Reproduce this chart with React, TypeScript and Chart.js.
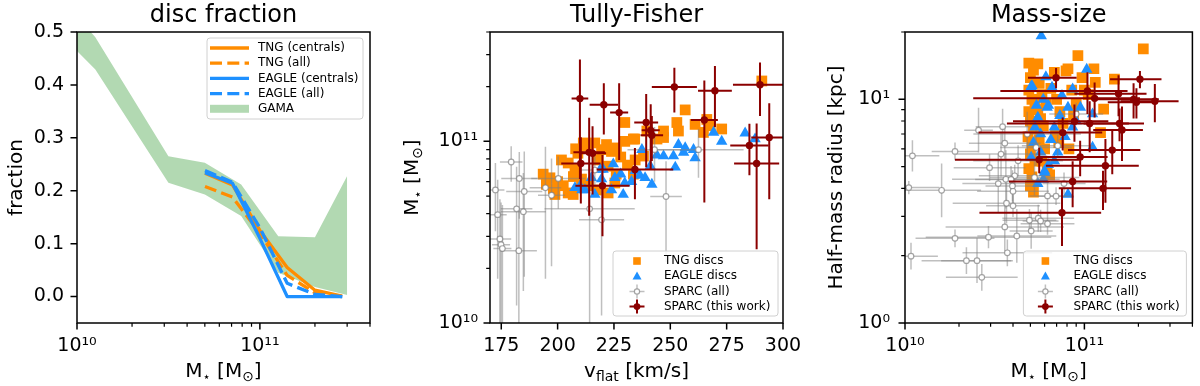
import React, { useEffect, useRef } from "react";
import { Chart, registerables } from "chart.js";
Chart.register(...registerables);

// ---------------- Panel 1: disc fraction ----------------
const discBinMass = [5.01e10, 7.08e10, 1.0e11, 1.41e11, 2.0e11, 2.82e11];
const tngCentralsFrac = [0.233, 0.211, 0.125, 0.055, 0.012, 0.001];
const tngAllFrac = [0.208, 0.188, 0.12, 0.04, 0.007, 0.0];
const eagleCentralsFrac = [0.234, 0.214, 0.11, 0.0, 0.0, 0.0];
const eagleAllFrac = [0.238, 0.216, 0.13, 0.025, 0.004, 0.0];
const gamaMass = [1.0e10, 1.26e10, 3.16e10, 5.0e10, 7.9e10, 1.26e11, 2.0e11, 3.0e11];
const gamaLower = [0.464, 0.429, 0.215, 0.193, 0.152, 0.045, 0.018, 0.003];
const gamaUpper = [0.53, 0.49, 0.265, 0.253, 0.212, 0.114, 0.112, 0.228];

// ---------------- Panel 2: Tully-Fisher (masses in 1e10 Msun) ----------------
const tfTngV = [193.6, 196.6, 198.1, 198.8, 202.5, 204.7, 206.9, 201.7, 204.7, 207.7, 211.4, 213.6, 216.5, 219.5, 221.7, 223.9, 226.1, 229.8, 234.2, 229.8, 218.0, 222.4, 210.6, 213.6, 218.0, 222.4, 225.4, 256.6, 252.9, 253.6, 261.0, 266.2, 267.7, 272.8, 264.7, 290.6, 247.0, 244.1, 239.6, 233.6, 247.0, 238.1, 234.4, 233.6, 213.0, 209.0, 228.0, 200.0, 195.0, 226.0, 231.0, 207.0, 208.0];
const tfTngM = [6.6, 6.3, 5.5, 5.1, 5.7, 5.2, 5.1, 7.9, 7.6, 7.0, 9.8, 9.4, 9.8, 9.0, 9.6, 8.8, 9.2, 10.0, 10.3, 12.7, 7.9, 7.3, 6.2, 5.7, 5.4, 5.2, 5.9, 14.9, 12.7, 11.4, 12.4, 13.2, 12.2, 11.7, 11.2, 21.5, 10.5, 10.3, 11.4, 10.3, 11.4, 8.3, 7.9, 6.6, 9.6, 8.6, 8.2, 6.0, 5.8, 6.6, 7.4, 6.4, 9.1];
const tfEagleV = [207.7, 209.9, 212.1, 216.5, 215.0, 219.5, 220.2, 224.7, 225.4, 223.9, 229.1, 229.8, 232.8, 237.4, 241.1, 241.8, 238.8, 247.0, 251.4, 253.6, 256.6, 260.3, 261.0, 255.9, 252.2, 269.2, 272.8, 283.2, 287.6, 234.4, 236.5, 218.9, 228.0, 244.0, 210.8];
const tfEagleM = [5.55, 5.66, 5.4, 5.1, 6.3, 6.2, 7.0, 7.5, 6.3, 5.4, 5.1, 5.9, 6.0, 9.0, 7.3, 5.8, 6.3, 8.3, 8.3, 9.6, 9.2, 9.0, 8.1, 8.7, 7.2, 11.2, 10.0, 11.1, 10.3, 6.9, 6.5, 7.0, 6.6, 8.4, 5.4];
const tfSparcAllV = [179.4, 172.4, 173.4, 174.4, 174.9, 175.5, 183.0, 185.2, 181.8, 184.8, 182.8, 194.6, 197.3, 200.3, 216.5, 214.2, 219.5, 248.1, 243.0, 262.5];
const tfSparcAllM = [7.7, 5.4, 3.95, 2.9, 2.7, 2.57, 6.25, 5.3, 4.25, 4.1, 2.5, 5.55, 5.05, 6.25, 6.95, 4.25, 3.7, 4.97, 9.0, 9.0];
const tfSparcAllVErr = [5, 4, 4, 5, 4, 4, 8, 8, 7, 10, 8, 7, 6, 12, 6, 20, 10, 7, 12, 20];
const tfSparcAllMErr = [1.7, 2.2, 2.2, 1.9, 1.9, 1.9, 2.5, 3.5, 3.0, 2.6, 1.7, 3.8, 3.0, 2.0, 1.3, 3.3, 2.6, 2.8, 3.0, 2.7];
const tfSparcV = [209.9, 220.5, 227.3, 214.0, 215.5, 210.3, 219.9, 234.3, 239.3, 241.3, 241.8, 251.8, 265.1, 269.8, 289.8, 285.1, 293.9, 288.3];
const tfSparcM = [17.2, 15.9, 14.4, 8.7, 8.6, 7.55, 5.7, 7.0, 12.7, 11.5, 10.8, 19.9, 13.1, 19.0, 20.5, 9.5, 10.5, 7.55];
const tfSparcVErr = [3.7, 6.3, 4, 7, 6, 8.7, 12, 17, 5.3, 4, 5, 10, 6, 7.5, 12, 8.5, 8, 10];
const tfSparcMErr = [11, 5, 6.5, 4.8, 3.5, 3, 2.7, 2.2, 5.5, 4.5, 3, 5.5, 8.5, 7, 6.7, 3, 5.7, 5];

// ---------------- Panel 3: Mass-size (masses in 1e10 Msun, radii in kpc) ----------------
const msTngM = [4.9, 5.0, 5.2, 4.9, 5.1, 5.3, 4.9, 5.0, 5.2, 4.85, 5.1, 5.0, 5.3, 4.9, 5.1, 5.0, 5.2, 5.5, 5.6, 5.8, 5.5, 5.7, 5.9, 5.6, 6.0, 5.8, 6.2, 6.4, 6.1, 6.5, 6.8, 7.0, 7.3, 7.6, 6.9, 7.9, 8.1, 8.5, 9.2, 9.0, 8.2, 8.7, 10.0, 11.3, 11.5, 10.5, 12.8, 12.3, 14.7, 21.3, 9.7, 7.2];
const msTngR = [14.5, 12.5, 13.5, 11.0, 10.0, 9.5, 8.8, 8.0, 7.4, 6.8, 6.3, 5.7, 5.3, 4.9, 4.5, 4.1, 3.85, 14.4, 11.8, 10.5, 9.0, 8.2, 7.6, 6.6, 6.0, 5.3, 5.0, 4.6, 9.6, 11.2, 13.2, 10.0, 8.8, 7.8, 7.0, 13.4, 13.7, 11.0, 15.7, 9.5, 6.0, 8.5, 11.0, 13.7, 11.9, 10.5, 9.05, 7.1, 12.3, 16.8, 12.5, 6.4];
const msEagleM = [5.75, 10.3, 6.1, 5.05, 5.4, 5.9, 6.2, 5.3, 5.7, 5.05, 5.7, 6.0, 5.5, 8.6, 6.3, 7.3, 8.1, 9.5, 11.1, 6.8, 8.6, 6.5, 7.1, 11.1, 6.8, 6.0, 8.1, 5.9, 5.1, 6.6, 7.5, 5.2, 6.3, 5.5, 7.8, 9.0];
const msEagleR = [19.2, 13.6, 12.6, 11.4, 9.4, 10.0, 9.2, 7.5, 7.0, 5.5, 5.8, 4.79, 8.3, 11.1, 9.4, 8.45, 9.2, 9.2, 8.6, 7.5, 7.5, 6.6, 5.8, 6.1, 5.3, 4.7, 3.76, 4.38, 11.5, 11.3, 10.4, 6.4, 5.1, 4.2, 6.8, 8.0];
const msSparcAllM = [1.10, 1.05, 1.08, 1.60, 1.90, 1.90, 2.20, 2.52, 2.68, 2.57, 2.96, 2.92, 3.31, 3.50, 3.60, 3.43, 3.65, 3.97, 4.09, 3.68, 4.00, 3.60, 3.72, 4.20, 4.94, 5.05, 5.53, 6.23, 6.23, 5.27, 5.38, 4.80, 4.27, 6.95, 7.70, 9.00, 7.10, 5.70, 3.90, 4.00];
const msSparcAllR = [5.59, 4.03, 1.99, 3.92, 5.85, 2.39, 1.90, 1.90, 1.60, 7.28, 4.95, 2.42, 4.20, 7.55, 6.37, 5.69, 4.39, 4.10, 4.55, 3.43, 3.34, 2.69, 2.06, 2.45, 2.88, 2.58, 2.94, 2.78, 3.70, 4.47, 6.09, 6.99, 5.31, 3.69, 4.20, 8.60, 6.20, 2.86, 4.38, 3.88];
const msSparcAllMErrDex = [0.15, 0.17, 0.15, 0.22, 0.13, 0.22, 0.25, 0.2, 0.2, 0.08, 0.2, 0.35, 0.2, 0.15, 0.2, 0.25, 0.3, 0.15, 0.2, 0.3, 0.15, 0.33, 0.25, 0.22, 0.15, 0.12, 0.2, 0.15, 0.1, 0.25, 0.2, 0.3, 0.25, 0.1, 0.12, 0.15, 0.2, 0.1, 0.2, 0.2];
const msSparcAllRErrDex = [0.07, 0.03, 0.06, 0.12, 0.04, 0.04, 0.06, 0.1, 0.06, 0.1, 0.06, 0.05, 0.13, 0.08, 0.07, 0.1, 0.13, 0.07, 0.05, 0.09, 0.05, 0.11, 0.06, 0.12, 0.05, 0.08, 0.06, 0.05, 0.08, 0.08, 0.08, 0.1, 0.07, 0.04, 0.05, 0.05, 0.05, 0.05, 0.06, 0.06];
const msSparcM = [6.95, 10.4, 11.4, 15.5, 18.8, 19.5, 24.7, 20.4, 8.8, 10.7, 15.7, 16.2, 7.57, 14.3, 9.47, 5.6, 13.1, 8.6, 12.7, 7.5];
const msSparcR = [12.5, 10.9, 10.1, 10.6, 10.0, 9.7, 9.8, 12.3, 7.97, 7.8, 7.8, 7.3, 7.1, 5.93, 5.53, 5.37, 5.05, 4.29, 4.0, 3.11];
const msSparcMErr = [2.1, 7, 9, 6.7, 7.2, 6, 8.8, 6.5, 4.8, 7, 5.8, 5, 5, 6.2, 4, 3.7, 7, 4.8, 5.5, 4.9];
const msSparcRErr = [1.3, 2.3, 1.8, 2.2, 1.8, 1.5, 1.9, 1.1, 1.5, 2.0, 1.3, 2.0, 1.2, 1.3, 1.0, 0.7, 1.6, 1.0, 0.8, 0.9];

// ---------------- Axis ticks ----------------
const massMajor = [1e10, 1e11];
const massMajorLabels = ["10\u00b9\u2070", "10\u00b9\u00b9"];
const massMinor = [2e10, 3e10, 4e10, 5e10, 6e10, 7e10, 8e10, 9e10, 2e11, 3e11, 4e11];
const fracTicks = [0, 0.1, 0.2, 0.3, 0.4, 0.5];
const fracTickLabels = ["0.0", "0.1", "0.2", "0.3", "0.4", "0.5"];
const vflatTicks = [175, 200, 225, 250, 275, 300];
const vflatTickLabels = ["175", "200", "225", "250", "275", "300"];
const radiusMajor = [1, 10];
const radiusMajorLabels = ["10\u2070", "10\u00b9"];
const radiusMinor = [2, 3, 4, 5, 6, 7, 8, 9, 20];

// ---------------- styles ----------------
const FONT = "'DejaVu Sans', sans-serif";
const ORANGE = "#ff8c00";
const BLUE = "#1e90ff";
const DARKRED = "#8b0000";
const GREY_BAR = "rgba(128,128,128,0.5)";
const GREY_EDGE = "rgba(128,128,128,0.7)";
const GAMA_FILL = "rgba(0,128,0,0.3)";

type Seg = { t: string; s: number; dy?: number };

const massTitle: Seg[] = [
  { t: "M", s: 20 },
  { t: "\u22c6", s: 13, dy: 4 },
  { t: " [M", s: 20 },
  { t: "\u2299", s: 14, dy: 4 },
  { t: "]", s: 20 },
];
const vflatTitle: Seg[] = [
  { t: "v", s: 20 },
  { t: "flat", s: 14, dy: 4 },
  { t: " [km/s]", s: 20 },
];

function drawRich(ctx: CanvasRenderingContext2D, segs: Seg[], x: number, y: number, rotate = false) {
  ctx.save();
  ctx.translate(x, y);
  if (rotate) ctx.rotate(-Math.PI / 2);
  ctx.textBaseline = "alphabetic";
  ctx.textAlign = "left";
  ctx.fillStyle = "#000";
  const widths = segs.map((sg) => {
    ctx.font = `${sg.s}px ${FONT}`;
    return ctx.measureText(sg.t).width;
  });
  const total = widths.reduce((a, b) => a + b, 0);
  let cx = -total / 2;
  segs.forEach((sg, i) => {
    ctx.font = `${sg.s}px ${FONT}`;
    ctx.fillText(sg.t, cx, sg.dy || 0);
    cx += widths[i];
  });
  ctx.restore();
}

type LegendRow = { label: string; kind: string; color?: string; dash?: number[] };
type DecorCfg = {
  title: string;
  xTitle: Seg[];
  yTitle: Seg[];
  yTitleX: number;
  xMajor: number[];
  xMinor: number[];
  yMajor: number[];
  yMinor: number[];
  legend: { w: number; h: number; corner: "tr" | "br"; gap: number; rows: LegendRow[]; markerDx: number; textDx: number; sampleW?: number };
};

function drawLegend(ctx: CanvasRenderingContext2D, a: any, lg: DecorCfg["legend"]) {
  const x0 = a.right - lg.gap - lg.w;
  const y0 = lg.corner === "tr" ? a.top + 6 : a.bottom - 7 - lg.h;
  const r = 3;
  ctx.save();
  ctx.beginPath();
  ctx.moveTo(x0 + r, y0);
  ctx.lineTo(x0 + lg.w - r, y0);
  ctx.arcTo(x0 + lg.w, y0, x0 + lg.w, y0 + r, r);
  ctx.lineTo(x0 + lg.w, y0 + lg.h - r);
  ctx.arcTo(x0 + lg.w, y0 + lg.h, x0 + lg.w - r, y0 + lg.h, r);
  ctx.lineTo(x0 + r, y0 + lg.h);
  ctx.arcTo(x0, y0 + lg.h, x0, y0 + lg.h - r, r);
  ctx.lineTo(x0, y0 + r);
  ctx.arcTo(x0, y0, x0 + r, y0, r);
  ctx.closePath();
  ctx.fillStyle = "rgba(255,255,255,0.85)";
  ctx.fill();
  ctx.strokeStyle = "#d0d0d0";
  ctx.lineWidth = 1;
  ctx.stroke();
  ctx.font = `12px ${FONT}`;
  ctx.textBaseline = "middle";
  ctx.textAlign = "left";
  lg.rows.forEach((row, i) => {
    const y = y0 + 10 + i * 15.2;
    const mx = x0 + lg.markerDx;
    ctx.save();
    if (row.kind === "line") {
      ctx.strokeStyle = row.color!;
      ctx.lineWidth = 3.3;
      ctx.setLineDash(row.dash || []);
      ctx.beginPath();
      ctx.moveTo(x0 + 3, y);
      ctx.lineTo(x0 + 3 + (lg.sampleW || 39), y);
      ctx.stroke();
    } else if (row.kind === "patch") {
      ctx.fillStyle = GAMA_FILL;
      ctx.fillRect(x0 + 3, y - 4, lg.sampleW || 39, 8);
    } else if (row.kind === "square") {
      ctx.fillStyle = ORANGE;
      ctx.fillRect(mx - 3.8, y - 3.8, 7.6, 7.6);
    } else if (row.kind === "triangle") {
      ctx.fillStyle = BLUE;
      ctx.beginPath();
      ctx.moveTo(mx, y - 4.8);
      ctx.lineTo(mx + 4.5, y + 3.3);
      ctx.lineTo(mx - 4.5, y + 3.3);
      ctx.closePath();
      ctx.fill();
    } else if (row.kind === "greyerr" || row.kind === "rederr") {
      const grey = row.kind === "greyerr";
      ctx.strokeStyle = grey ? GREY_BAR : DARKRED;
      ctx.lineWidth = grey ? 1.5 : 2;
      ctx.beginPath();
      ctx.moveTo(mx - 7.5, y);
      ctx.lineTo(mx + 7.5, y);
      ctx.moveTo(mx, y - 7);
      ctx.lineTo(mx, y + 7);
      ctx.stroke();
      ctx.beginPath();
      ctx.arc(mx, y, grey ? 2.6 : 3.4, 0, Math.PI * 2);
      if (grey) {
        ctx.fillStyle = "#fff";
        ctx.fill();
        ctx.strokeStyle = GREY_EDGE;
        ctx.lineWidth = 1.2;
        ctx.stroke();
      } else {
        ctx.fillStyle = DARKRED;
        ctx.fill();
      }
    }
    ctx.restore();
    ctx.fillStyle = "#000";
    ctx.fillText(row.label, x0 + lg.textDx, y);
  });
  ctx.restore();
}

function makeDecor(cfg: DecorCfg) {
  return {
    id: "decor",
    beforeDatasetDraw(chart: any, args: any) {
      const ds = chart.data.datasets[args.index];
      const bars = ds.errBars as { x: number; y: number; x0: number; x1: number; y0: number; y1: number }[] | undefined;
      if (!bars) return;
      const { ctx, chartArea: a, scales } = chart;
      const sx = scales.x;
      const sy = scales.y;
      const safe = (s: any, v: number) => (s.type === "logarithmic" && v <= 0 ? s.min / 100 : v);
      ctx.save();
      ctx.beginPath();
      ctx.rect(a.left, a.top, a.right - a.left, a.bottom - a.top);
      ctx.clip();
      ctx.strokeStyle = ds.errColor;
      ctx.lineWidth = ds.errWidth;
      for (const b of bars) {
        const xc = sx.getPixelForValue(b.x);
        const yc = sy.getPixelForValue(b.y);
        const xa = sx.getPixelForValue(safe(sx, b.x0));
        const xb = sx.getPixelForValue(safe(sx, b.x1));
        const ya = sy.getPixelForValue(safe(sy, b.y0));
        const yb = sy.getPixelForValue(safe(sy, b.y1));
        ctx.beginPath();
        ctx.moveTo(xa, yc);
        ctx.lineTo(xb, yc);
        ctx.moveTo(xc, ya);
        ctx.lineTo(xc, yb);
        ctx.stroke();
      }
      ctx.restore();
    },
    afterDraw(chart: any) {
      const { ctx, chartArea: a, scales } = chart;
      const sx = scales.x;
      const sy = scales.y;
      ctx.save();
      ctx.strokeStyle = "#000";
      ctx.lineWidth = 1.5;
      ctx.strokeRect(a.left, a.top, a.right - a.left, a.bottom - a.top);
      const tick = (vals: number[], len: number, w: number, axis: "x" | "y") => {
        ctx.lineWidth = w;
        ctx.beginPath();
        for (const v of vals) {
          if (axis === "x") {
            const p = sx.getPixelForValue(v);
            ctx.moveTo(p, a.bottom);
            ctx.lineTo(p, a.bottom + len);
          } else {
            const p = sy.getPixelForValue(v);
            ctx.moveTo(a.left, p);
            ctx.lineTo(a.left - len, p);
          }
        }
        ctx.stroke();
      };
      tick(cfg.xMajor, 6.5, 1.5, "x");
      tick(cfg.xMinor, 3.8, 1.2, "x");
      tick(cfg.yMajor, 6.5, 1.5, "y");
      tick(cfg.yMinor, 3.8, 1.2, "y");
      ctx.restore();
      const cx = (a.left + a.right) / 2;
      const cy = (a.top + a.bottom) / 2;
      drawRich(ctx, [{ t: cfg.title, s: 24 }], cx, 22);
      drawRich(ctx, cfg.xTitle, cx, 377);
      drawRich(ctx, cfg.yTitle, cfg.yTitleX, cy, true);
      drawLegend(ctx, a, cfg.legend);
    },
  };
}

function tickFont() {
  return { family: FONT, size: 19 };
}

function axisX(type: string, min: number, max: number, ticks: number[], labels: string[], height: number) {
  return {
    type,
    min,
    max,
    bounds: "data",
    afterBuildTicks: (s: any) => {
      s.ticks = ticks.map((v) => ({ value: v }));
    },
    afterFit: (s: any) => {
      s.height = height;
      s.paddingLeft = 0;
      s.paddingRight = 0;
    },
    ticks: {
      callback: (_v: any, i: number) => labels[i],
      font: tickFont(),
      color: "#000",
      padding: 12,
      maxRotation: 0,
      minRotation: 0,
      autoSkip: false,
    },
    grid: { display: false, drawTicks: false },
    border: { display: false },
  };
}

function axisY(type: string, min: number, max: number, ticks: number[], labels: string[], width: number, pad: number) {
  return {
    type,
    min,
    max,
    bounds: "data",
    afterBuildTicks: (s: any) => {
      s.ticks = ticks.map((v) => ({ value: v }));
    },
    afterFit: (s: any) => {
      s.width = width;
      s.paddingTop = 0;
      s.paddingBottom = 0;
    },
    ticks: {
      callback: (_v: any, i: number) => labels[i],
      font: tickFont(),
      color: "#000",
      padding: pad,
      autoSkip: false,
    },
    grid: { display: false, drawTicks: false },
    border: { display: false },
  };
}

const pts = (xs: number[], ys: number[], sx = 1, sy = 1) => xs.map((x, i) => ({ x: x * sx, y: ys[i] * sy }));

const baseOptions = (padding: any) => ({
  animation: false,
  responsive: false,
  maintainAspectRatio: false,
  devicePixelRatio: 1,
  events: [],
  layout: { padding },
  plugins: { legend: { display: false }, tooltip: { enabled: false }, title: { display: false } },
});

const scatterLegendRows: LegendRow[] = [
  { label: "TNG discs", kind: "square" },
  { label: "EAGLE discs", kind: "triangle" },
  { label: "SPARC (all)", kind: "greyerr" },
  { label: "SPARC (this work)", kind: "rederr" },
];

function makeDiscConfig(): any {
  const line = (label: string, ys: number[], color: string, dash: number[], order: number) => ({
    label,
    data: pts(discBinMass, ys),
    borderColor: color,
    borderWidth: 3.3,
    borderDash: dash,
    borderJoinStyle: "round",
    pointRadius: 0,
    fill: false,
    order,
  });
  return {
    type: "line",
    data: {
      datasets: [
        line("TNG (centrals)", tngCentralsFrac, ORANGE, [], 4),
        line("TNG (all)", tngAllFrac, ORANGE, [12, 5.3], 3),
        line("EAGLE (centrals)", eagleCentralsFrac, BLUE, [], 2),
        line("EAGLE (all)", eagleAllFrac, BLUE, [12, 5.3], 1),
        { label: "GAMA upper", data: pts(gamaMass, gamaUpper), borderColor: "rgba(0,0,0,0)", borderWidth: 1, pointRadius: 0, fill: false, order: 6 },
        { label: "GAMA", data: pts(gamaMass, gamaLower), borderColor: "rgba(0,0,0,0)", borderWidth: 1, pointRadius: 0, backgroundColor: GAMA_FILL, fill: "-1", order: 5 },
      ],
    },
    options: {
      ...baseOptions({ left: 0, top: 32, right: 30, bottom: 0 }),
      scales: {
        x: axisX("logarithmic", 1e10, 4e11, massMajor, massMajorLabels, 63),
        y: axisY("linear", -0.05, 0.5, fracTicks, fracTickLabels, 77, 13),
      },
    },
    plugins: [
      makeDecor({
        title: "disc fraction",
        xTitle: massTitle,
        yTitle: [{ t: "fraction", s: 20 }],
        yTitleX: 22,
        xMajor: massMajor,
        xMinor: massMinor,
        yMajor: fracTicks,
        yMinor: [],
        legend: {
          w: 156,
          h: 81,
          corner: "tr",
          gap: 7,
          markerDx: 22,
          textDx: 51,
          sampleW: 39,
          rows: [
            { label: "TNG (centrals)", kind: "line", color: ORANGE },
            { label: "TNG (all)", kind: "line", color: ORANGE, dash: [12, 5.3] },
            { label: "EAGLE (centrals)", kind: "line", color: BLUE },
            { label: "EAGLE (all)", kind: "line", color: BLUE, dash: [12, 5.3] },
            { label: "GAMA", kind: "patch" },
          ],
        },
      }),
    ],
  };
}

function scatterSets(
  tng: { x: number; y: number }[],
  eagle: { x: number; y: number }[],
  allPts: any[],
  allBars: any[],
  thisPts: any[],
  thisBars: any[]
) {
  return [
    { label: "TNG discs", data: tng, pointStyle: "rect", pointRadius: 7.6, backgroundColor: ORANGE, borderWidth: 0, order: 4 },
    { label: "EAGLE discs", data: eagle, pointStyle: "triangle", pointRadius: 6.6, backgroundColor: BLUE, borderWidth: 0, order: 3 },
    {
      label: "SPARC (all)",
      data: allPts,
      pointStyle: "circle",
      pointRadius: 2.8,
      backgroundColor: "#fff",
      borderColor: GREY_EDGE,
      borderWidth: 1.2,
      order: 2,
      errBars: allBars,
      errColor: GREY_BAR,
      errWidth: 1.5,
    },
    {
      label: "SPARC (this work)",
      data: thisPts,
      pointStyle: "circle",
      pointRadius: 3.7,
      backgroundColor: DARKRED,
      borderWidth: 0,
      order: 1,
      errBars: thisBars,
      errColor: DARKRED,
      errWidth: 2,
    },
  ];
}

function makeTFConfig(): any {
  const allBars = tfSparcAllV.map((v, i) => ({
    x: v,
    y: tfSparcAllM[i] * 1e10,
    x0: v - tfSparcAllVErr[i],
    x1: v + tfSparcAllVErr[i],
    y0: (tfSparcAllM[i] - tfSparcAllMErr[i]) * 1e10,
    y1: (tfSparcAllM[i] + tfSparcAllMErr[i]) * 1e10,
  }));
  const thisBars = tfSparcV.map((v, i) => ({
    x: v,
    y: tfSparcM[i] * 1e10,
    x0: v - tfSparcVErr[i],
    x1: v + tfSparcVErr[i],
    y0: (tfSparcM[i] - tfSparcMErr[i]) * 1e10,
    y1: (tfSparcM[i] + tfSparcMErr[i]) * 1e10,
  }));
  return {
    type: "scatter",
    data: {
      datasets: scatterSets(
        pts(tfTngV, tfTngM, 1, 1e10),
        pts(tfEagleV, tfEagleM, 1, 1e10),
        pts(tfSparcAllV, tfSparcAllM, 1, 1e10),
        allBars,
        pts(tfSparcV, tfSparcM, 1, 1e10),
        thisBars
      ),
    },
    options: {
      ...baseOptions({ left: 0, top: 32, right: 27, bottom: 0 }),
      scales: {
        x: axisX("linear", 170, 300, vflatTicks, vflatTickLabels, 63),
        y: axisY("logarithmic", 1e10, 4e11, massMajor, massMajorLabels, 90, 12),
      },
    },
    plugins: [
      makeDecor({
        title: "Tully-Fisher",
        xTitle: vflatTitle,
        yTitle: massTitle,
        yTitleX: 18,
        xMajor: vflatTicks,
        xMinor: [],
        yMajor: massMajor,
        yMinor: massMinor,
        legend: { w: 165, h: 65, corner: "br", gap: 5, markerDx: 24, textDx: 51, rows: scatterLegendRows },
      }),
    ],
  };
}

function makeMSConfig(): any {
  const allBars = msSparcAllM.map((m, i) => ({
    x: m * 1e10,
    y: msSparcAllR[i],
    x0: m * 1e10 * Math.pow(10, -msSparcAllMErrDex[i]),
    x1: m * 1e10 * Math.pow(10, msSparcAllMErrDex[i]),
    y0: msSparcAllR[i] * Math.pow(10, -msSparcAllRErrDex[i]),
    y1: msSparcAllR[i] * Math.pow(10, msSparcAllRErrDex[i]),
  }));
  const thisBars = msSparcM.map((m, i) => ({
    x: m * 1e10,
    y: msSparcR[i],
    x0: (m - msSparcMErr[i]) * 1e10,
    x1: (m + msSparcMErr[i]) * 1e10,
    y0: msSparcR[i] - msSparcRErr[i],
    y1: msSparcR[i] + msSparcRErr[i],
  }));
  return {
    type: "scatter",
    data: {
      datasets: scatterSets(
        pts(msTngM, msTngR, 1e10, 1),
        pts(msEagleM, msEagleR, 1e10, 1),
        pts(msSparcAllM, msSparcAllR, 1e10, 1),
        allBars,
        pts(msSparcM, msSparcR, 1e10, 1),
        thisBars
      ),
    },
    options: {
      ...baseOptions({ left: 0, top: 32, right: 3, bottom: 0 }),
      scales: {
        x: axisX("logarithmic", 1e10, 4e11, massMajor, massMajorLabels, 63),
        y: axisY("logarithmic", 1, 20, radiusMajor, radiusMajorLabels, 105, 15),
      },
    },
    plugins: [
      makeDecor({
        title: "Mass-size",
        xTitle: massTitle,
        yTitle: [{ t: "Half-mass radius [kpc]", s: 20 }],
        yTitleX: 42,
        xMajor: massMajor,
        xMinor: massMinor,
        yMajor: radiusMajor,
        yMinor: radiusMinor,
        legend: { w: 163, h: 65, corner: "br", gap: 6, markerDx: 22, textDx: 50, rows: scatterLegendRows },
      }),
    ],
  };
}

function ChartCanvas({ make, left, width }: { make: () => any; left: number; width: number }) {
  const ref = useRef<HTMLCanvasElement>(null);
  useEffect(() => {
    const chart = new Chart(ref.current as HTMLCanvasElement, make());
    return () => chart.destroy();
  }, []);
  return (
    <canvas
      ref={ref}
      width={width}
      height={386}
      style={{ position: "absolute", left, top: 0, width, height: 386 }}
    />
  );
}

export default function App() {
  return (
    <div style={{ position: "fixed", left: 0, top: 0, width: 1200, height: 386, background: "#fff", overflow: "hidden" }}>
      <ChartCanvas make={makeDiscConfig} left={0} width={400} />
      <ChartCanvas make={makeTFConfig} left={400} width={410} />
      <ChartCanvas make={makeMSConfig} left={800} width={400} />
    </div>
  );
}
